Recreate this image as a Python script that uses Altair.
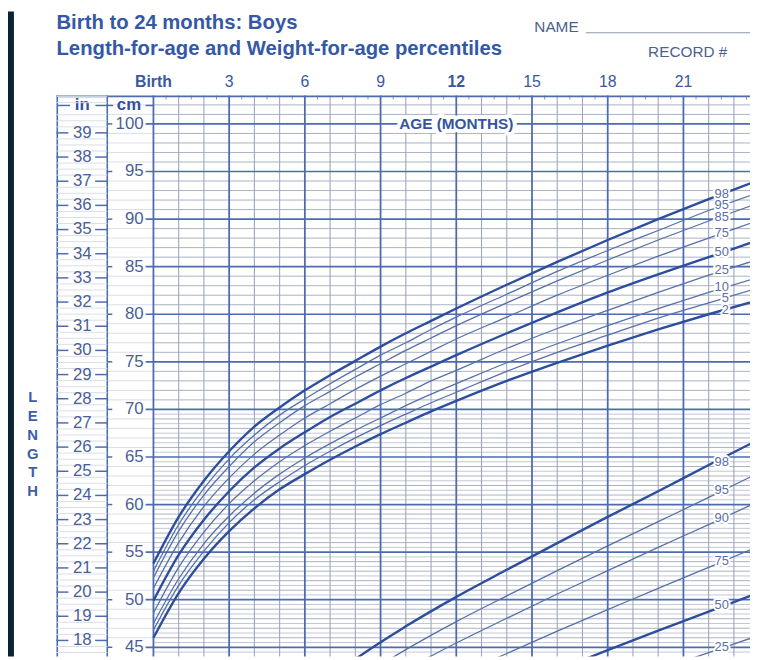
import altair as alt
import pandas as pd

FONT = "Liberation Sans"
DARK = "#0c2236"
TXT = "#3558a5"
NUM = "#4a5f97"
GRID_MAJ = "#4d6cae"
GRID_MIN = "#aab1c4"
GRID_FAINT = "#dadee8"
CURVE_THICK = "#2d4e9c"
CURVE_THIN = "#5670aa"
LABEL_C = "#5a6ea4"

# ---------------- data ----------------
MONTHS = [0, 1, 2, 3, 4, 5, 6, 7, 8, 9, 10, 11, 12, 14, 16, 18, 20, 22, 24]
LEN_P2 = [46.0, 50.7, 54.3, 57.2, 59.6, 61.6, 63.2, 64.7, 66.1, 67.4, 68.6, 69.8, 70.9, 73.0, 74.9, 76.7, 78.4, 80.0, 81.5]
LEN_P5 = [46.8, 51.5, 55.1, 58.1, 60.5, 62.4, 64.1, 65.6, 67.0, 68.3, 69.5, 70.7, 71.8, 74.0, 76.0, 77.8, 79.6, 81.2, 82.8]
LEN_P10 = [47.5, 52.2, 55.9, 58.8, 61.2, 63.2, 64.9, 66.4, 67.8, 69.1, 70.4, 71.6, 72.7, 74.9, 76.9, 78.8, 80.6, 82.3, 83.9]
LEN_P25 = [48.6, 53.4, 57.1, 60.1, 62.5, 64.5, 66.2, 67.7, 69.1, 70.5, 71.7, 73.0, 74.1, 76.4, 78.5, 80.4, 82.3, 84.1, 85.8]
LEN_P50 = [49.9, 54.7, 58.4, 61.4, 63.9, 65.9, 67.6, 69.2, 70.6, 72.0, 73.3, 74.5, 75.7, 78.0, 80.2, 82.3, 84.2, 86.0, 87.8]
LEN_P75 = [51.2, 56.0, 59.8, 62.8, 65.3, 67.3, 69.1, 70.6, 72.1, 73.5, 74.8, 76.1, 77.4, 79.7, 82.0, 84.1, 86.1, 88.0, 89.9]
LEN_P90 = [52.3, 57.2, 61.0, 64.0, 66.6, 68.6, 70.4, 71.9, 73.4, 74.8, 76.2, 77.5, 78.8, 81.2, 83.5, 85.7, 87.8, 89.8, 91.7]
LEN_P95 = [53.0, 57.9, 61.7, 64.8, 67.3, 69.4, 71.1, 72.7, 74.2, 75.7, 77.0, 78.4, 79.7, 82.1, 84.5, 86.7, 88.8, 90.9, 92.8]
LEN_P98 = [53.8, 58.7, 62.5, 65.6, 68.2, 70.2, 72.0, 73.6, 75.1, 76.6, 78.0, 79.3, 80.6, 83.1, 85.5, 87.8, 90.0, 92.1, 94.1]

W_MONTHS = [6, 8, 10, 12, 14, 16, 18, 20, 22, 24]
WT_P25 = [7.37, 8.00, 8.51, 8.96, 9.37, 9.77, 10.15, 10.52, 10.89, 11.25]
WT_P50 = [7.93, 8.62, 9.16, 9.65, 10.10, 10.52, 10.94, 11.35, 11.75, 12.15]
WT_P75 = [8.54, 9.27, 9.86, 10.38, 10.87, 11.34, 11.79, 12.24, 12.68, 13.13]
WT_P90 = [9.12, 9.89, 10.53, 11.09, 11.61, 12.12, 12.61, 13.10, 13.58, 14.07]
WT_P95 = [9.48, 10.29, 10.95, 11.54, 12.08, 12.61, 13.13, 13.64, 14.15, 14.67]
WT_P98 = [9.91, 10.75, 11.44, 12.06, 12.63, 13.19, 13.74, 14.28, 14.83, 15.37]

LEN_LABELS = ["98", "95", "85", "75", "50", "25", "10", "5", "2"]
LEN_LABEL_CM = [92.6, 91.45, 90.2, 88.55, 86.5, 84.6, 82.85, 81.7, 80.4]
WT_LABELS = ["98", "95", "90", "75", "50", "25"]
WT_LABEL_KG = [14.9, 14.3, 13.72, 12.82, 11.88, 11.0]
LABEL_MONTH = 22.8

AGE_TICKS = [0, 3, 6, 9, 12, 15, 18, 21, 24]
AGE_TICK_TEXT = ["Birth", "3", "6", "9", "12", "15", "18", "21", "24"]
AGE_TICK_BOLD = ["bold", "normal", "normal", "normal", "bold", "normal", "normal", "normal", "normal"]
CM_TICKS = [45, 50, 55, 60, 65, 70, 75, 80, 85, 90, 95, 100]
IN_TICKS = list(range(18, 40))
THICK = ["2", "50", "98"]

TITLE1 = "Birth to 24 months: Boys"
TITLE2 = "Length-for-age and Weight-for-age percentiles"

# ---------------- geometry ----------------
XMIN, XMAX = -3.842, 23.638
YMIN, YMAX = 44.03, 102.98
W, H = 701, 567
SEP = -1.83          # in / cm column divider (months units)
CM_LAB_X = -0.39
IN_LAB_X = -2.82

xs = alt.Scale(domain=[XMIN, XMAX], nice=False, zero=False)
ys_cm = alt.Scale(domain=[YMIN, YMAX], nice=False, zero=False)
ys_in = alt.Scale(domain=[YMIN / 2.54, YMAX / 2.54], nice=False, zero=False)
ys_kg = alt.Scale(domain=[(YMIN + 10) / 5, (YMAX + 10) / 5], nice=False, zero=False)


def X(f):
    return alt.X(f, type="quantitative", scale=xs, axis=None)


def Ycm(f):
    return alt.Y(f, type="quantitative", scale=ys_cm, axis=None)


def Yin(f):
    return alt.Y(f, type="quantitative", scale=ys_in, axis=None)


def Ykg(f):
    return alt.Y(f, type="quantitative", scale=ys_kg, axis=None)


one = pd.DataFrame({"k": [0]})

# ---------------- grid data ----------------
vmin = pd.DataFrame({"m": [m for m in range(1, 24) if m % 3]})
vmaj = pd.DataFrame({"m": [m for m in range(0, 24, 3)]})
vtick = pd.DataFrame({"m": [i + 0.5 for i in range(24)]})
hmin = pd.DataFrame({"c": [c for c in range(45, 103) if c % 5], "a": 0.0, "b": XMAX})
hhalf = pd.DataFrame({"c": [c + 0.5 for c in range(44, 70)], "a": 0.0, "b": XMAX})
hmaj = pd.DataFrame({"c": CM_TICKS, "a": -0.31, "b": XMAX})
hcol = pd.DataFrame({"c": [c for c in range(45, 103) if c % 5], "a": SEP, "b": 0.0})
cm_left = pd.DataFrame({"c": CM_TICKS, "a": SEP, "b": -1.63})
cm_lab = pd.DataFrame({"c": CM_TICKS, "t": [str(c) for c in CM_TICKS], "m": CM_LAB_X})

in_faint = pd.DataFrame({"i": [17.5 + 0.25 * k for k in range(93) if (17.5 + 0.25 * k) % 1 != 0],
                         "a": XMIN, "b": SEP})
in_tl = pd.DataFrame({"i": IN_TICKS, "a": XMIN, "b": -3.37})
in_tr = pd.DataFrame({"i": IN_TICKS, "a": -2.31, "b": SEP})
in_lab = pd.DataFrame({"i": IN_TICKS, "t": [str(i) for i in IN_TICKS], "m": IN_LAB_X})

len_series = {"2": LEN_P2, "5": LEN_P5, "10": LEN_P10, "25": LEN_P25, "50": LEN_P50,
              "75": LEN_P75, "90": LEN_P90, "95": LEN_P95, "98": LEN_P98}
len_df = pd.DataFrame([(m, v, p) for p, vals in len_series.items() for m, v in zip(MONTHS, vals)],
                      columns=["m", "v", "p"])
wt_series = {"25": WT_P25, "50": WT_P50, "75": WT_P75, "90": WT_P90, "95": WT_P95, "98": WT_P98}
wt_df = pd.DataFrame([(m, v, p) for p, vals in wt_series.items() for m, v in zip(W_MONTHS, vals)],
                     columns=["m", "v", "p"])
len_lab = pd.DataFrame({"t": LEN_LABELS, "v": LEN_LABEL_CM, "m": LABEL_MONTH})
wt_lab = pd.DataFrame({"t": WT_LABELS, "v": WT_LABEL_KG, "m": LABEL_MONTH})
age_df = pd.DataFrame({"m": AGE_TICKS, "t": AGE_TICK_TEXT, "w": AGE_TICK_BOLD})

# ---------------- cm group ----------------
L = []
L.append(alt.Chart(one).mark_rect(color=DARK).encode(
    x=alt.value(-49), x2=alt.value(-43), y=alt.value(-85), y2=alt.value(H)))
L.append(alt.Chart(hcol).mark_rule(color=GRID_FAINT, strokeWidth=1).encode(
    x=X("a"), x2="b", y=Ycm("c")))
L.append(alt.Chart(hmin).mark_rule(color=GRID_MIN, strokeWidth=1).encode(
    x=X("a"), x2="b", y=Ycm("c")))
L.append(alt.Chart(hhalf).mark_rule(color="#c2c7d5", strokeWidth=1).encode(
    x=X("a"), x2="b", y=Ycm("c")))
L.append(alt.Chart(vmin).mark_rule(color="#9ea6bb", strokeWidth=1.1).encode(
    x=X("m"), y=alt.value(0), y2=alt.value(H)))
L.append(alt.Chart(hmaj).mark_rule(color=GRID_MAJ, strokeWidth=1.7).encode(
    x=X("a"), x2="b", y=Ycm("c")))
L.append(alt.Chart(vmaj).mark_rule(color=GRID_MAJ, strokeWidth=1.8).encode(
    x=X("m"), y=alt.value(0), y2=alt.value(H)))
L.append(alt.Chart(vtick).mark_rule(color="#8c95ad", strokeWidth=1).encode(
    x=X("m"), y=alt.value(0), y2=alt.value(4)))
# frame
L.append(alt.Chart(one).mark_rule(color=GRID_MAJ, strokeWidth=1.6).encode(
    x=alt.value(0.8), y=alt.value(0), y2=alt.value(H)))
L.append(alt.Chart(pd.DataFrame({"m": [SEP]})).mark_rule(color=GRID_MAJ, strokeWidth=1.6).encode(
    x=X("m"), y=alt.value(0), y2=alt.value(H)))
L.append(alt.Chart(one).mark_rule(color=GRID_MAJ, strokeWidth=1.6).encode(
    x=alt.value(0), x2=alt.value(W), y=alt.value(0.8)))
# cm column
L.append(alt.Chart(cm_left).mark_rule(color=GRID_MAJ, strokeWidth=1.5).encode(
    x=X("a"), x2="b", y=Ycm("c")))
L.append(alt.Chart(cm_lab).mark_text(align="right", baseline="middle", font=FONT, fontSize=17,
                                     color=NUM).encode(x=X("m"), y=Ycm("c"), text="t:N"))
# headers "in" / "cm"
hdr = pd.DataFrame({"t": ["in", "cm"], "m": [-2.82, -0.97]})
L.append(alt.Chart(hdr).mark_text(align="center", baseline="middle", font=FONT, fontSize=17,
                                  fontWeight="bold", color="#33509a").encode(
    x=X("m"), y=alt.value(10), text="t:N"))
hdr_ticks = pd.DataFrame({"a": [XMIN + 0.04, -2.3, SEP, -0.31], "b": [-3.3, SEP, -1.6, 0.0]})
L.append(alt.Chart(hdr_ticks).mark_rule(color=GRID_MAJ, strokeWidth=1.5).encode(
    x=X("a"), x2="b", y=alt.value(10)))
# age labels on top
for wgt in ["bold", "normal"]:
    L.append(alt.Chart(age_df).transform_filter(alt.datum.w == wgt).mark_text(
        align="center", baseline="middle", font=FONT, fontSize=16, fontWeight=wgt,
        color="#3a58a0").encode(x=X("m"), y=alt.value(-14), text="t:N"))
# titles
titles = pd.DataFrame({"t": [TITLE1, TITLE2], "yy": [-73, -47]})
L.append(alt.Chart(titles).mark_text(align="left", baseline="middle", font=FONT, fontSize=20.5,
                                     fontWeight="bold", color=TXT).encode(
    x=alt.value(0), y=alt.Y("yy:Q", scale=None), text="t:N"))
L.append(alt.Chart(pd.DataFrame({"t": ["NAME"]})).mark_text(
    align="left", baseline="middle", font=FONT, fontSize=15.5, color="#4d5f8e").encode(
    x=alt.value(483), y=alt.value(-69), text="t:N"))
L.append(alt.Chart(pd.DataFrame({"t": ["RECORD #"]})).mark_text(
    align="left", baseline="middle", font=FONT, fontSize=15.5, color="#4d5f8e").encode(
    x=alt.value(598), y=alt.value(-44), text="t:N"))
L.append(alt.Chart(one).mark_rule(color="#8e97ad", strokeWidth=1.2).encode(
    x=alt.value(535), x2=alt.value(W), y=alt.value(-63.5)))
# length curves
thin_len = len_df[~len_df.p.isin(THICK)]
thick_len = len_df[len_df.p.isin(THICK)]
L.append(alt.Chart(thin_len).mark_line(interpolate="monotone", color=CURVE_THIN, strokeWidth=1.3,
                                       clip=True).encode(x=X("m"), y=Ycm("v"), detail="p:N"))
L.append(alt.Chart(thick_len).mark_line(interpolate="monotone", color=CURVE_THICK, strokeWidth=2.4,
                                        clip=True).encode(x=X("m"), y=Ycm("v"), detail="p:N"))
L.append(alt.Chart(len_lab).mark_text(align="right", baseline="middle", font=FONT, fontSize=13,
                                      stroke="white", strokeWidth=4, strokeJoin="round",
                                      color="white").encode(x=X("m"), y=Ycm("v"), text="t:N"))
L.append(alt.Chart(len_lab).mark_text(align="right", baseline="middle", font=FONT, fontSize=13,
                                      color=LABEL_C).encode(x=X("m"), y=Ycm("v"), text="t:N"))
# AGE (MONTHS)
age_t = pd.DataFrame({"t": ["AGE (MONTHS)"], "m": [12], "c": [100]})
L.append(alt.Chart(age_t).mark_text(align="center", baseline="middle", font=FONT, fontSize=15.5,
                                    fontWeight="bold", stroke="white", strokeWidth=8,
                                    strokeJoin="round", color="white").encode(
    x=X("m"), y=Ycm("c"), text="t:N"))
L.append(alt.Chart(age_t).mark_text(align="center", baseline="middle", font=FONT, fontSize=15.5,
                                    fontWeight="bold", color="#33549f").encode(
    x=X("m"), y=Ycm("c"), text="t:N"))
# LENGTH vertical
L.append(alt.Chart(pd.DataFrame({"t": ["L\nE\nN\nG\nT\nH"]})).mark_text(
    align="center", baseline="middle", font=FONT, fontSize=15, fontWeight="bold",
    lineBreak="\n", lineHeight=19, color="#3d5ea8").encode(
    x=alt.value(-24), y=alt.value(305), text="t:N"))

cm_group = alt.layer(*L)

# ---------------- inch group ----------------
I = []
I.append(alt.Chart(in_faint).mark_rule(color=GRID_FAINT, strokeWidth=1).encode(
    x=X("a"), x2="b", y=Yin("i")))
I.append(alt.Chart(in_tl).mark_rule(color=GRID_MAJ, strokeWidth=1.5).encode(
    x=X("a"), x2="b", y=Yin("i")))
I.append(alt.Chart(in_tr).mark_rule(color=GRID_MAJ, strokeWidth=1.5).encode(
    x=X("a"), x2="b", y=Yin("i")))
I.append(alt.Chart(in_lab).mark_text(align="center", baseline="middle", font=FONT, fontSize=17,
                                     color=NUM).encode(x=X("m"), y=Yin("i"), text="t:N"))
in_group = alt.layer(*I)

# ---------------- weight group ----------------
K = []
thin_wt = wt_df[~wt_df.p.isin(THICK)]
thick_wt = wt_df[wt_df.p.isin(THICK)]
K.append(alt.Chart(thin_wt).mark_line(interpolate="monotone", color=CURVE_THIN, strokeWidth=1.3,
                                      clip=True).encode(x=X("m"), y=Ykg("v"), detail="p:N"))
K.append(alt.Chart(thick_wt).mark_line(interpolate="monotone", color=CURVE_THICK, strokeWidth=2.4,
                                       clip=True).encode(x=X("m"), y=Ykg("v"), detail="p:N"))
K.append(alt.Chart(wt_lab).mark_text(align="right", baseline="middle", font=FONT, fontSize=13,
                                     stroke="white", strokeWidth=4, strokeJoin="round",
                                     color="white").encode(x=X("m"), y=Ykg("v"), text="t:N"))
K.append(alt.Chart(wt_lab).mark_text(align="right", baseline="middle", font=FONT, fontSize=13,
                                     color=LABEL_C).encode(x=X("m"), y=Ykg("v"), text="t:N"))
kg_group = alt.layer(*K)

chart = alt.layer(cm_group, in_group, kg_group).resolve_scale(y="independent").properties(
    width=W, height=H,
    autosize=alt.AutoSizeParams(type="none"),
    padding={"left": 49, "top": 85, "right": 0, "bottom": 0},
    background="white",
).configure_view(stroke=None)

chart.save("out.html", embed_options={"renderer": "svg", "actions": False})
